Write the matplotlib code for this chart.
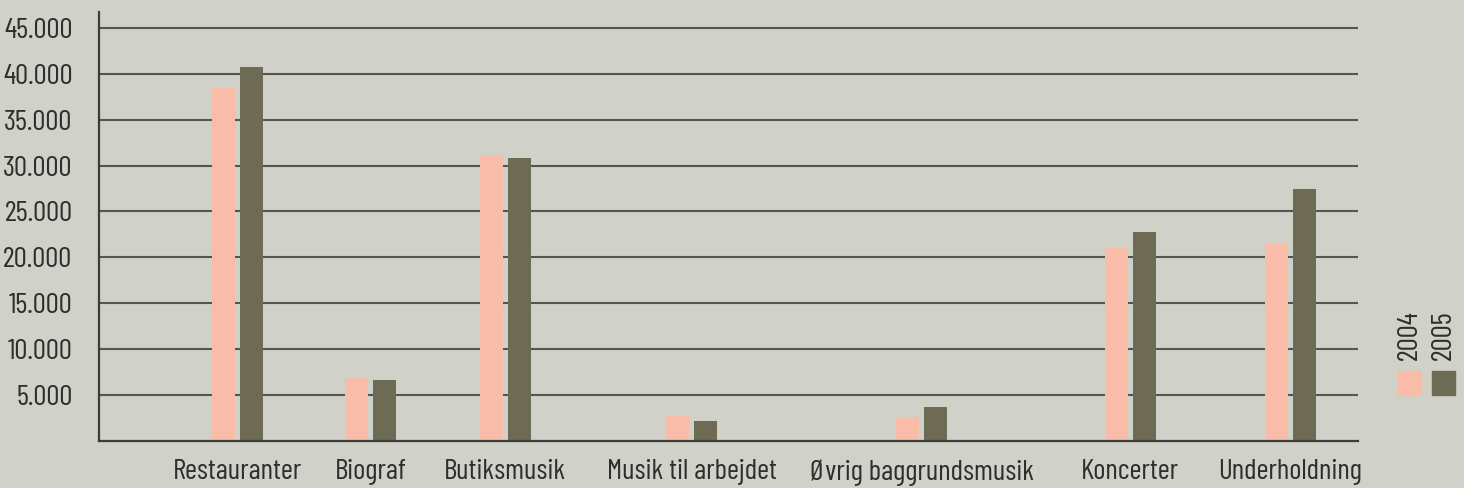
import numpy as np
import matplotlib
matplotlib.use('Agg')
import matplotlib.pyplot as plt
from matplotlib.patches import Rectangle
from matplotlib.ticker import FuncFormatter

categories = ['Restauranter', 'Biograf', 'Butiksmusik', 'Musik til arbejdet',
              'Øvrig baggrundsmusik', 'Koncerter', 'Underholdning']
years = ['2004', '2005']
values_2004 = [38400, 6900, 31100, 2750, 2600, 21000, 21500]
values_2005 = [40700, 6600, 30800, 2200, 3700, 22800, 27400]

# layout: group centres in axis units (uneven spacing as in the original)
centers = np.array([138.5, 271.5, 406, 592.5, 822.5, 1031, 1191.5])
bar_w = 23
offset = 14

bg = '#d0d1c8'
pink = '#f9bca8'
olive = '#6d6b53'
txt = '#2e2e2e'

plt.rcParams['font.family'] = ['Barlow Condensed', 'DejaVu Sans']

fig = plt.figure(figsize=(14.64, 4.88), dpi=100, facecolor=bg)
ax = fig.add_axes([99/1464, 47/488, (1358-99)/1464, (441-12)/488])
ax.set_facecolor(bg)

ax.bar(centers - offset, values_2004, width=bar_w, color=pink, zorder=3)
ax.bar(centers + offset, values_2005, width=bar_w, color=olive, zorder=3)

ax.set_xlim(0, 1259)
ax.set_ylim(0, 46730)
ax.set_yticks(np.arange(5000, 45001, 5000))
ax.yaxis.set_major_formatter(FuncFormatter(lambda v, p: f'{int(v):,}'.replace(',', '.')))
ax.set_xticks(centers)
ax.set_xticklabels(categories)
ax.tick_params(axis='both', length=0, labelsize=21, colors=txt)
ax.tick_params(axis='y', pad=19)
ax.tick_params(axis='x', pad=13)

ax.grid(axis='y', color='#55554f', linewidth=1.5, zorder=1)
for s in ['top', 'right']:
    ax.spines[s].set_visible(False)
for s in ['left', 'bottom']:
    ax.spines[s].set_color('#3c3c3c')
    ax.spines[s].set_linewidth(1.6)
    ax.spines[s].set_zorder(4)

# legend on the right, rotated labels above colour boxes
for i, (yr, col) in enumerate(zip(years, [pink, olive])):
    x0 = 1398 + i * 34
    fig.add_artist(Rectangle((x0/1464, (488-395)/488), 23/1464, 24/488,
                             transform=fig.transFigure, color=col))
    fig.text((x0 + 11.5)/1464, (488-360)/488, yr, rotation=90, ha='center',
             va='bottom', fontsize=21, color=txt)

fig.savefig('out.png', dpi=100, facecolor=bg)
